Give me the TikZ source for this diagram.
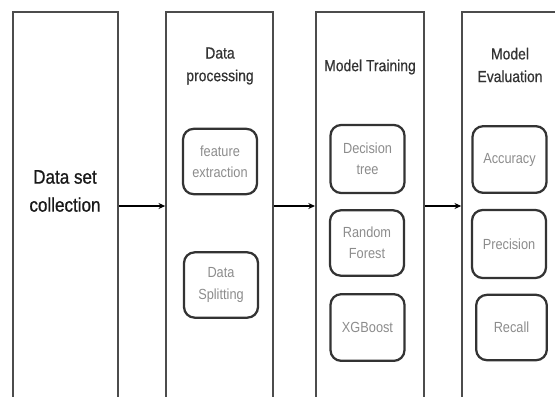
\documentclass[tikz,border=0pt]{standalone}
\usepackage{fontspec}
\setmainfont{Liberation Sans}[FakeStretch=0.87]
\usetikzlibrary{arrows.meta}

\tikzset{
	stage/.style={draw=black!70, line width=1.5pt, minimum width=79pt, minimum height=291pt, inner sep=0pt},
	algo/.style={draw=black!80, line width=1.7pt, rounded corners=8pt, minimum width=55.5pt, minimum height=49pt, inner sep=1pt, align=center, text=black!45, font=\fontsize{11}{16}\selectfont},
	ttl/.style={align=center, text=black!80, font=\fontsize{12}{17}\selectfont\addfontfeature{FakeBold=0.6}},
	flow/.style={-{Stealth[length=5pt,width=4.5pt]}, line width=1pt, black}
}

\begin{document}
\begin{tikzpicture}[x=0.75pt, y=-0.75pt]
	\useasboundingbox (0,0) rectangle (555,396);
	\clip (0,0) rectangle (555,396);
	% stages
	\node[stage] (collect) at (65.5,206) {};
	\node[stage, minimum width=80pt] (process) at (219.5,206) {};
	\node[stage, minimum width=81pt] (train) at (370,206) {};
	\node[stage, minimum width=80pt] (evaluate) at (515.5,206) {};
	\node[ttl, font=\fontsize{14.7}{21}\selectfont\addfontfeature{FakeBold=0.8}, text=black!90] (collectttl) at (65,191) {Data set\\collection};
	\node[ttl] (processttl) at (220,66) {Data\\processing};
	\node[ttl] (trainttl) at (370,67) {Model Training};
	\node[ttl] (evaluatettl) at (510,65) {Model\\Evaluation};
	% steps inside the stages
	\node[algo] (feature) at (220,161.5) {feature\\extraction};
	\node[algo] (split) at (221,285) {Data\\Splitting};
	\node[algo, minimum height=51pt] (dtree) at (367.5,159) {Decision\\tree};
	\node[algo] (rforest) at (367,243) {Random\\Forest};
	\node[algo, minimum height=50pt] (xgb) at (367.5,327.5) {XGBoost};
	\node[algo, minimum height=50pt] (acc) at (509.5,159.5) {Accuracy};
	\node[algo, minimum height=51pt] (prec) at (509,244) {Precision};
	\node[algo, minimum width=53pt] (rec) at (511.5,327.5) {Recall};
	% arrows
	\draw[flow] (collect) -- (process);
	\draw[flow] (process) -- (train);
	\draw[flow] (train) -- (evaluate);
\end{tikzpicture}
\end{document}
